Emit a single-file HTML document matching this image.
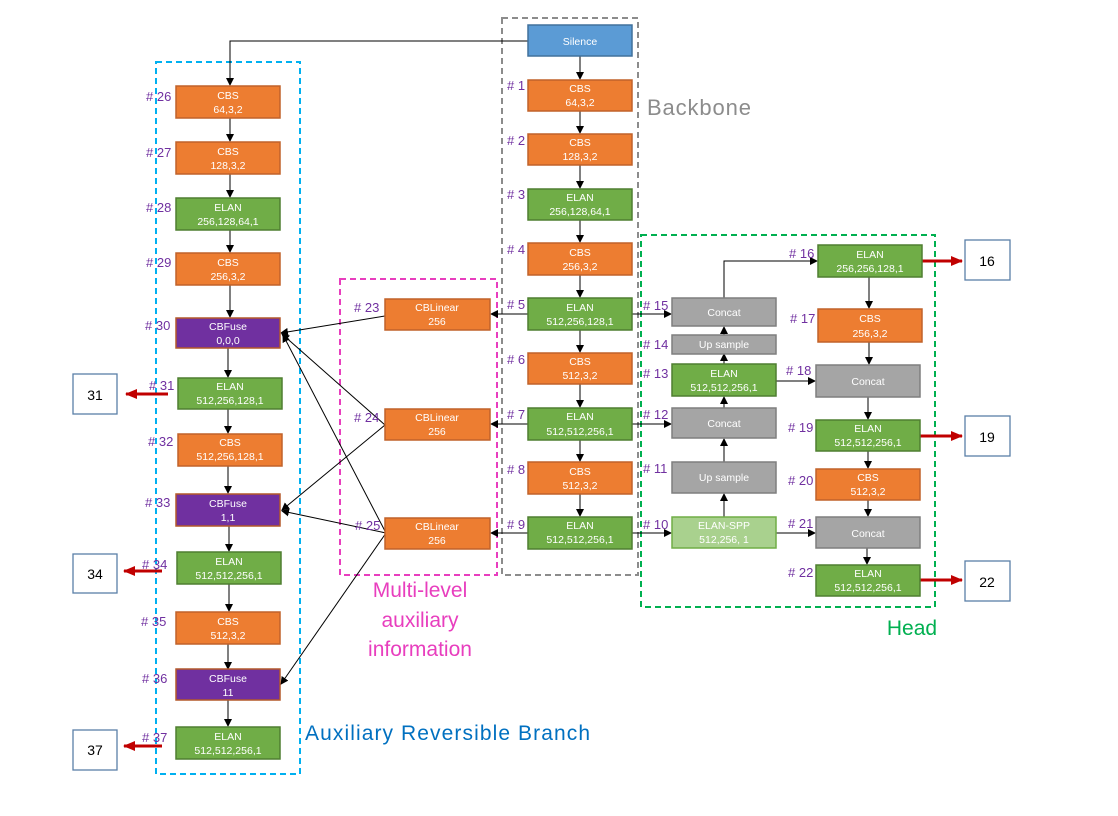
<!DOCTYPE html>
<html><head><meta charset="utf-8"><style>
html,body{margin:0;padding:0;background:#fff}
svg{display:block;font-family:"Liberation Sans",sans-serif}
.t{fill:#fff;font-size:10.5px;text-anchor:middle}
.n{fill:#7030A0;font-size:13px}
.o{fill:#ED7D31;stroke:#C0622A;stroke-width:1.5}
.g{fill:#70AD47;stroke:#4F7F30;stroke-width:1.5}
.p{fill:#7030A0;stroke:#B4592A;stroke-width:1.5}
.y{fill:#A5A5A5;stroke:#7F7F7F;stroke-width:1.5}
.lg{fill:#A9D18E;stroke:#70AD47;stroke-width:1.5}
.b{fill:#5B9BD5;stroke:#41719C;stroke-width:1.5}
.ob{fill:#fff;stroke:#5A7FA8;stroke-width:1.3}
.ot{fill:#000;font-size:14px;text-anchor:middle}
.l{stroke:#000;stroke-width:1;fill:none}
.r{stroke:#C00000;stroke-width:3;fill:none}
</style></head><body>
<svg width="1118" height="816" viewBox="0 0 1118 816" xmlns="http://www.w3.org/2000/svg">
<defs>
<marker id="a" markerWidth="8" markerHeight="8" refX="7" refY="4" orient="auto" markerUnits="userSpaceOnUse"><path d="M0,0 L8,4 L0,8 z" fill="#000"/></marker>
<marker id="ra" markerWidth="12" markerHeight="10" refX="11" refY="5" orient="auto" markerUnits="userSpaceOnUse"><path d="M0,0 L12,5 L0,10 z" fill="#C00000"/></marker>
</defs>
<rect x="156" y="62" width="144" height="712" fill="none" stroke="#00B0F0" stroke-width="2" stroke-dasharray="6,4"/>
<rect x="340" y="279" width="157" height="296" fill="none" stroke="#E83EBE" stroke-width="2" stroke-dasharray="6,4"/>
<rect x="502" y="18" width="136" height="557" fill="none" stroke="#8C8C8C" stroke-width="2" stroke-dasharray="6,4"/>
<rect x="641" y="235" width="294" height="372" fill="none" stroke="#00B050" stroke-width="2" stroke-dasharray="6,4"/>

<text x="647" y="115" font-size="22" fill="#8C8C8C" textLength="104">Backbone</text>
<text x="420" y="597" font-size="21" fill="#E83EBE" text-anchor="middle">Multi-level</text>
<text x="420" y="627" font-size="21" fill="#E83EBE" text-anchor="middle">auxiliary</text>
<text x="420" y="656" font-size="21" fill="#E83EBE" text-anchor="middle">information</text>
<text x="912" y="635" font-size="21" fill="#00B050" text-anchor="middle">Head</text>
<text x="305" y="740" font-size="21" fill="#0070C0" textLength="285">Auxiliary Reversible Branch</text>

<g class="l">
<path d="M528,41 H230 V85" marker-end="url(#a)"/>
<path d="M230,118 V141" marker-end="url(#a)"/>
<path d="M230,174 V197" marker-end="url(#a)"/>
<path d="M230,230 V252" marker-end="url(#a)"/>
<path d="M230,285 V317" marker-end="url(#a)"/>
<path d="M228,348 V377" marker-end="url(#a)"/>
<path d="M228,409 V433" marker-end="url(#a)"/>
<path d="M228,466 V493" marker-end="url(#a)"/>
<path d="M229,526 V551" marker-end="url(#a)"/>
<path d="M229,584 V611" marker-end="url(#a)"/>
<path d="M228,644 V669" marker-end="url(#a)"/>
<path d="M228,700 V726" marker-end="url(#a)"/>

<path d="M580,56 V79" marker-end="url(#a)"/>
<path d="M580,111 V133" marker-end="url(#a)"/>
<path d="M580,165 V188" marker-end="url(#a)"/>
<path d="M580,220 V242" marker-end="url(#a)"/>
<path d="M580,275 V297" marker-end="url(#a)"/>
<path d="M580,330 V352" marker-end="url(#a)"/>
<path d="M580,384 V407" marker-end="url(#a)"/>
<path d="M580,440 V461" marker-end="url(#a)"/>
<path d="M580,494 V516" marker-end="url(#a)"/>

<path d="M528,314 H491" marker-end="url(#a)"/>
<path d="M528,424 H491" marker-end="url(#a)"/>
<path d="M528,533 H491" marker-end="url(#a)"/>
<path d="M632,314 H671" marker-end="url(#a)"/>
<path d="M632,424 H671" marker-end="url(#a)"/>
<path d="M632,533 H671" marker-end="url(#a)"/>

<path d="M724,517 V494" marker-end="url(#a)"/>
<path d="M724,462 V439" marker-end="url(#a)"/>
<path d="M724,408 V397" marker-end="url(#a)"/>
<path d="M724,364 V354" marker-end="url(#a)"/>
<path d="M724,335 V327" marker-end="url(#a)"/>
<path d="M724,298 V261 H817" marker-end="url(#a)"/>
<path d="M776,381 H815" marker-end="url(#a)"/>
<path d="M776,533 H815" marker-end="url(#a)"/>
<path d="M869,277 V308" marker-end="url(#a)"/>
<path d="M869,342 V364" marker-end="url(#a)"/>
<path d="M868,397 V419" marker-end="url(#a)"/>
<path d="M868,451 V468" marker-end="url(#a)"/>
<path d="M868,500 V516" marker-end="url(#a)"/>
<path d="M867,548 V564" marker-end="url(#a)"/>

<path d="M385,316 L281,333" marker-end="url(#a)"/>
<path d="M385,425 L282,334" marker-end="url(#a)"/>
<path d="M385,425 L282,510" marker-end="url(#a)"/>
<path d="M386,533 L283,335" marker-end="url(#a)"/>
<path d="M386,533 L282,511" marker-end="url(#a)"/>
<path d="M386,533 L281,684" marker-end="url(#a)"/>
</g>

<g class="r">
<path d="M922,261 H962" marker-end="url(#ra)"/>
<path d="M920,436 H962" marker-end="url(#ra)"/>
<path d="M920,580 H962" marker-end="url(#ra)"/>
<path d="M168,394 H126" marker-end="url(#ra)"/>
<path d="M162,571 H124" marker-end="url(#ra)"/>
<path d="M162,746 H124" marker-end="url(#ra)"/>
</g>

<rect class="ob" x="965" y="240" width="45" height="40"/><text class="ot" x="987" y="266">16</text>
<rect class="ob" x="965" y="416" width="45" height="40"/><text class="ot" x="987" y="442">19</text>
<rect class="ob" x="965" y="561" width="45" height="40"/><text class="ot" x="987" y="587">22</text>
<rect class="ob" x="73" y="374" width="44" height="40"/><text class="ot" x="95" y="400">31</text>
<rect class="ob" x="73" y="554" width="44" height="39"/><text class="ot" x="95" y="579">34</text>
<rect class="ob" x="73" y="730" width="44" height="40"/><text class="ot" x="95" y="755">37</text>

<rect class="o" x="176" y="86" width="104" height="32"/><text class="t" x="228" y="99">CBS</text><text class="t" x="228" y="113">64,3,2</text>
<rect class="o" x="176" y="142" width="104" height="32"/><text class="t" x="228" y="155">CBS</text><text class="t" x="228" y="169">128,3,2</text>
<rect class="g" x="176" y="198" width="104" height="32"/><text class="t" x="228" y="211">ELAN</text><text class="t" x="228" y="225">256,128,64,1</text>
<rect class="o" x="176" y="253" width="104" height="32"/><text class="t" x="228" y="266">CBS</text><text class="t" x="228" y="280">256,3,2</text>
<rect class="p" x="176" y="318" width="104" height="30"/><text class="t" x="228" y="330">CBFuse</text><text class="t" x="228" y="344">0,0,0</text>
<rect class="g" x="178" y="378" width="104" height="31"/><text class="t" x="230" y="390">ELAN</text><text class="t" x="230" y="404">512,256,128,1</text>
<rect class="o" x="178" y="434" width="104" height="32"/><text class="t" x="230" y="446">CBS</text><text class="t" x="230" y="460">512,256,128,1</text>
<rect class="p" x="176" y="494" width="104" height="32"/><text class="t" x="228" y="507">CBFuse</text><text class="t" x="228" y="521">1,1</text>
<rect class="g" x="177" y="552" width="104" height="32"/><text class="t" x="229" y="565">ELAN</text><text class="t" x="229" y="579">512,512,256,1</text>
<rect class="o" x="176" y="612" width="104" height="32"/><text class="t" x="228" y="625">CBS</text><text class="t" x="228" y="639">512,3,2</text>
<rect class="p" x="176" y="669" width="104" height="31"/><text class="t" x="228" y="682">CBFuse</text><text class="t" x="228" y="696">11</text>
<rect class="g" x="176" y="727" width="104" height="32"/><text class="t" x="228" y="740">ELAN</text><text class="t" x="228" y="754">512,512,256,1</text>
<g class="n">
<text x="146" y="101"># 26</text><text x="146" y="157"># 27</text><text x="146" y="212"># 28</text><text x="146" y="267"># 29</text>
<text x="145" y="330"># 30</text><text x="149" y="390"># 31</text><text x="148" y="446"># 32</text><text x="145" y="507"># 33</text>
<text x="142" y="569"># 34</text><text x="141" y="626"># 35</text><text x="142" y="683"># 36</text><text x="142" y="742"># 37</text>
</g>

<rect class="o" x="385" y="299" width="105" height="31"/><text class="t" x="437" y="311">CBLinear</text><text class="t" x="437" y="325">256</text>
<rect class="o" x="385" y="409" width="105" height="31"/><text class="t" x="437" y="421">CBLinear</text><text class="t" x="437" y="435">256</text>
<rect class="o" x="385" y="518" width="105" height="31"/><text class="t" x="437" y="530">CBLinear</text><text class="t" x="437" y="544">256</text>
<g class="n"><text x="354" y="312"># 23</text><text x="354" y="422"># 24</text><text x="355" y="530"># 25</text></g>

<rect class="b" x="528" y="25" width="104" height="31"/><text class="t" x="580" y="45">Silence</text>
<rect class="o" x="528" y="80" width="104" height="31"/><text class="t" x="580" y="92">CBS</text><text class="t" x="580" y="106">64,3,2</text>
<rect class="o" x="528" y="134" width="104" height="31"/><text class="t" x="580" y="146">CBS</text><text class="t" x="580" y="160">128,3,2</text>
<rect class="g" x="528" y="189" width="104" height="31"/><text class="t" x="580" y="201">ELAN</text><text class="t" x="580" y="215">256,128,64,1</text>
<rect class="o" x="528" y="243" width="104" height="32"/><text class="t" x="580" y="256">CBS</text><text class="t" x="580" y="270">256,3,2</text>
<rect class="g" x="528" y="298" width="104" height="32"/><text class="t" x="580" y="311">ELAN</text><text class="t" x="580" y="325">512,256,128,1</text>
<rect class="o" x="528" y="353" width="104" height="31"/><text class="t" x="580" y="365">CBS</text><text class="t" x="580" y="379">512,3,2</text>
<rect class="g" x="528" y="408" width="104" height="32"/><text class="t" x="580" y="420">ELAN</text><text class="t" x="580" y="435">512,512,256,1</text>
<rect class="o" x="528" y="462" width="104" height="32"/><text class="t" x="580" y="475">CBS</text><text class="t" x="580" y="489">512,3,2</text>
<rect class="g" x="528" y="517" width="104" height="32"/><text class="t" x="580" y="529">ELAN</text><text class="t" x="580" y="543">512,512,256,1</text>
<g class="n">
<text x="507" y="90"># 1</text><text x="507" y="145"># 2</text><text x="507" y="199"># 3</text><text x="507" y="254"># 4</text>
<text x="507" y="309"># 5</text><text x="507" y="364"># 6</text><text x="507" y="419"># 7</text><text x="507" y="474"># 8</text><text x="507" y="529"># 9</text>
</g>

<rect class="y" x="672" y="298" width="104" height="28"/><text class="t" x="724" y="316">Concat</text>
<rect class="y" x="672" y="335" width="104" height="19"/><text class="t" x="724" y="348">Up sample</text>
<rect class="g" x="672" y="364" width="104" height="32"/><text class="t" x="724" y="377">ELAN</text><text class="t" x="724" y="391">512,512,256,1</text>
<rect class="y" x="672" y="408" width="104" height="30"/><text class="t" x="724" y="427">Concat</text>
<rect class="y" x="672" y="462" width="104" height="31"/><text class="t" x="724" y="481">Up sample</text>
<rect class="lg" x="672" y="517" width="104" height="31"/><text class="t" x="724" y="529">ELAN-SPP</text><text class="t" x="724" y="543">512,256, 1</text>
<g class="n">
<text x="643" y="310"># 15</text><text x="643" y="349"># 14</text><text x="643" y="378"># 13</text><text x="643" y="419"># 12</text>
<text x="643" y="473"># 11</text><text x="643" y="529"># 10</text>
</g>

<rect class="g" x="818" y="245" width="104" height="32"/><text class="t" x="870" y="258">ELAN</text><text class="t" x="870" y="272">256,256,128,1</text>
<rect class="o" x="818" y="309" width="104" height="33"/><text class="t" x="870" y="322">CBS</text><text class="t" x="870" y="337">256,3,2</text>
<rect class="y" x="816" y="365" width="104" height="32"/><text class="t" x="868" y="385">Concat</text>
<rect class="g" x="816" y="420" width="104" height="31"/><text class="t" x="868" y="432">ELAN</text><text class="t" x="868" y="446">512,512,256,1</text>
<rect class="o" x="816" y="469" width="104" height="31"/><text class="t" x="868" y="481">CBS</text><text class="t" x="868" y="495">512,3,2</text>
<rect class="y" x="816" y="517" width="104" height="31"/><text class="t" x="868" y="537">Concat</text>
<rect class="g" x="816" y="565" width="104" height="31"/><text class="t" x="868" y="577">ELAN</text><text class="t" x="868" y="591">512,512,256,1</text>
<g class="n">
<text x="789" y="258"># 16</text><text x="790" y="323"># 17</text><text x="786" y="375"># 18</text><text x="788" y="432"># 19</text>
<text x="788" y="485"># 20</text><text x="788" y="528"># 21</text><text x="788" y="577"># 22</text>
</g>
</svg>
</body></html>
